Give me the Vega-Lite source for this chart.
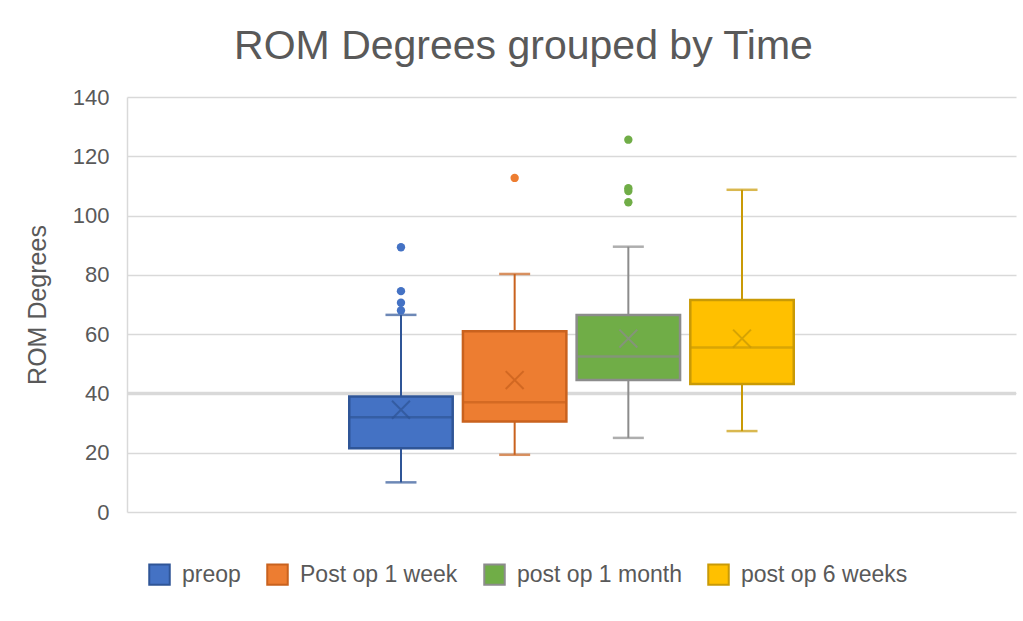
{
  "$schema": "https://vega.github.io/schema/vega-lite/v6.json",
  "width": 889,
  "height": 415,
  "padding": {"left": 25, "top": 26, "right": 7, "bottom": 35},
  "background": "white",
  "title": {
    "text": "ROM Degrees grouped by Time",
    "font": "Liberation Sans",
    "fontSize": 41,
    "fontWeight": "normal",
    "color": "#595959",
    "anchor": "middle",
    "dx": -48,
    "offset": 18
  },
  "config": {
    "view": {"stroke": null},
    "font": "Liberation Sans"
  },
  "datasets": {
    "stats": [
      {"series": "preop", "low": 10, "q1": 21.5, "median": 32, "mean": 34.5, "q3": 39, "high": 66.5},
      {"series": "Post op 1 week", "low": 19.3, "q1": 30.5, "median": 37, "mean": 44.5, "q3": 61, "high": 80.3},
      {"series": "post op 1 month", "low": 25, "q1": 44.5, "median": 52.5, "mean": 58.5, "q3": 66.5, "high": 89.5},
      {"series": "post op 6 weeks", "low": 27.3, "q1": 43.2, "median": 55.5, "mean": 58.5, "q3": 71.5, "high": 108.7}
    ],
    "outliers": [
      {"series": "preop", "value": 89.3},
      {"series": "preop", "value": 74.5},
      {"series": "preop", "value": 70.6},
      {"series": "preop", "value": 68},
      {"series": "Post op 1 week", "value": 112.7},
      {"series": "post op 1 month", "value": 125.6},
      {"series": "post op 1 month", "value": 109.2},
      {"series": "post op 1 month", "value": 108.3},
      {"series": "post op 1 month", "value": 104.5}
    ],
    "ref": [{"y": 40}]
  },
  "layer": [
    {
      "data": {"name": "ref"},
      "mark": {"type": "rule", "color": "#d9d9d9", "strokeWidth": 3.5},
      "encoding": {
        "y": {"field": "y", "type": "quantitative", "scale": {"domain": [0, 140]},
          "axis": {
            "values": [0, 20, 40, 60, 80, 100, 120, 140],
            "grid": true, "gridColor": "#d9d9d9", "gridWidth": 1.5,
            "domain": true, "domainColor": "#d9d9d9", "domainWidth": 1.5,
            "ticks": false,
            "labelFont": "Liberation Sans", "labelFontSize": 22, "labelColor": "#595959", "labelPadding": 18,
            "title": "ROM Degrees", "titleFont": "Liberation Sans", "titleFontSize": 25, "titleFontWeight": "normal", "titleColor": "#595959", "titlePadding": 22
          }
        }
      }
    },
    {
      "data": {"name": "stats"},
      "mark": {"type": "rule", "strokeWidth": 2},
      "encoding": {
        "x": {"datum": "Time", "type": "nominal", "axis": null, "scale": {"paddingInner": 0, "paddingOuter": 0.5}},
        "xOffset": {"field": "series", "type": "nominal",
          "scale": {"domain": ["preop", "Post op 1 week", "post op 1 month", "post op 6 weeks"], "paddingInner": 0.09, "paddingOuter": 0}},
        "y": {"field": "low", "type": "quantitative"},
        "y2": {"field": "high"},
        "stroke": {"field": "series", "type": "nominal", "legend": null,
          "scale": {"range": ["#C9621E", "#8C8C8C", "#C99A06", "#2F5597"]}}
      }
    },
    {
      "data": {"name": "stats"},
      "mark": {"type": "tick", "size": 31, "thickness": 2.5},
      "encoding": {
        "x": {"datum": "Time", "type": "nominal"},
        "xOffset": {"field": "series", "type": "nominal"},
        "y": {"field": "low", "type": "quantitative"},
        "fill": {"field": "series", "type": "nominal", "legend": null,
          "scale": {"range": ["#C9621E", "#8C8C8C", "#C99A06", "#2F5597"]}}
      }
    },
    {
      "data": {"name": "stats"},
      "mark": {"type": "tick", "size": 31, "thickness": 2.5},
      "encoding": {
        "x": {"datum": "Time", "type": "nominal"},
        "xOffset": {"field": "series", "type": "nominal"},
        "y": {"field": "high", "type": "quantitative"},
        "fill": {"field": "series", "type": "nominal", "legend": null}
      }
    },
    {
      "data": {"name": "stats"},
      "mark": {"type": "bar", "strokeWidth": 2.5},
      "encoding": {
        "x": {"datum": "Time", "type": "nominal"},
        "xOffset": {"field": "series", "type": "nominal"},
        "y": {"field": "q1", "type": "quantitative"},
        "y2": {"field": "q3"},
        "color": {"field": "series", "type": "nominal",
          "scale": {"domain": ["preop", "Post op 1 week", "post op 1 month", "post op 6 weeks"], "range": ["#4472C4", "#ED7D31", "#70AD47", "#FFC000"]},
          "legend": {
            "orient": "none", "legendX": 21, "legendY": 466, "direction": "horizontal", "title": null,
            "symbolType": "square", "symbolSize": 420, "symbolStrokeWidth": 2, "symbolOpacity": 1,
            "labelFont": "Liberation Sans", "labelFontSize": 23, "labelColor": "#595959", "labelOffset": 11,
            "labelLimit": 400,
            "columnPadding": 22,
            "encode": {"symbols": {"update": {"stroke": {"scale": "stroke", "field": "value"}}}}
          }},
        "stroke": {"field": "series", "type": "nominal", "legend": null}
      }
    },
    {
      "data": {"name": "stats"},
      "mark": {"type": "tick", "thickness": 2.5, "size": 103},
      "encoding": {
        "x": {"datum": "Time", "type": "nominal"},
        "xOffset": {"field": "series", "type": "nominal"},
        "y": {"field": "median", "type": "quantitative"},
        "fill": {"field": "series", "type": "nominal", "legend": null}
      }
    },
    {
      "data": {"name": "stats"},
      "mark": {"type": "point", "shape": "M-1,-1L1,1M-1,1L1,-1", "filled": false, "size": 320, "strokeWidth": 2, "opacity": 0.75},
      "encoding": {
        "x": {"datum": "Time", "type": "nominal"},
        "xOffset": {"field": "series", "type": "nominal"},
        "y": {"field": "mean", "type": "quantitative"},
        "stroke": {"field": "series", "type": "nominal", "legend": null}
      }
    },
    {
      "data": {"name": "outliers"},
      "mark": {"type": "point", "shape": "circle", "filled": true, "size": 70, "opacity": 1},
      "encoding": {
        "x": {"datum": "Time", "type": "nominal"},
        "xOffset": {"field": "series", "type": "nominal"},
        "y": {"field": "value", "type": "quantitative"},
        "color": {"field": "series", "type": "nominal"}
      }
    }
  ]
}
